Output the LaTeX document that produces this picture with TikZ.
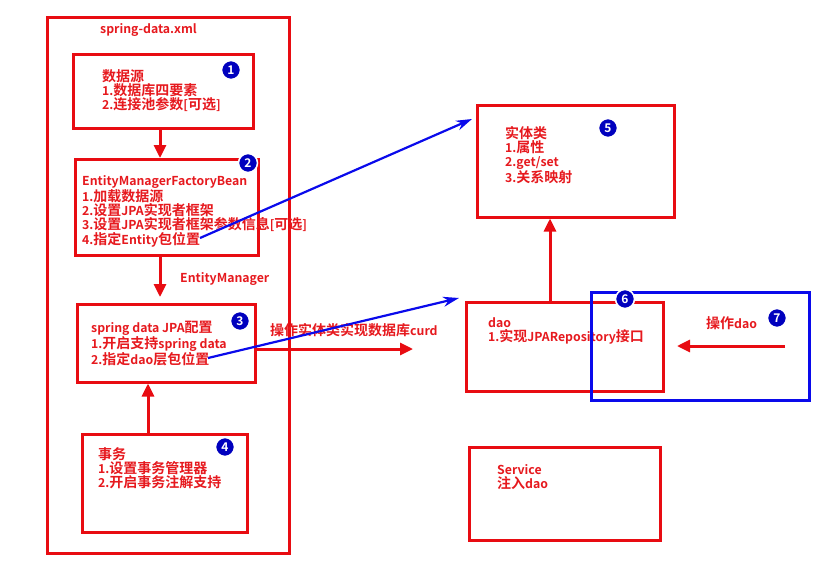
\documentclass[tikz,border=0pt]{standalone}
\usepackage{fontspec}
\setmainfont{Noto Sans CJK SC}[BoldFont={Noto Sans CJK SC Bold}]
\usetikzlibrary{fit,arrows.meta}
\definecolor{bred}{RGB}{232,12,18}
\definecolor{tred}{RGB}{230,25,30}
\definecolor{bblue}{RGB}{10,10,235}
\definecolor{badge}{RGB}{0,0,190}
\newcommand\en[1]{{\fontsize{12.3}{14}\selectfont #1}}
\tikzset{
  box/.style={draw=bred,line width=3pt,inner sep=0pt},
  bluebox/.style={draw=bblue,line width=3pt,inner sep=0pt},
  txt/.style={text=tred,font=\bfseries\fontsize{14}{14}\selectfont,align=left,inner sep=0pt,anchor=north west},
  lbl/.style={text=tred,font=\bfseries\fontsize{14}{14}\selectfont,inner sep=0pt,anchor=west},
  badgenode/.style={circle,fill=badge,draw=white,line width=1.5pt,text=white,inner sep=0pt,minimum size=19pt,font=\bfseries\fontsize{12}{12}\selectfont},
  rarrow/.style={draw=bred,line width=3pt,-{Triangle[length=13pt,width=12pt]}},
  barrow/.style={draw=bblue,line width=2.2pt,-{Stealth[length=16pt,width=10pt]}},
}
\begin{document}
\begin{tikzpicture}[x=1pt,y=-1pt]
\useasboundingbox (0,0) rectangle (814,573);
% box corners
\coordinate (o1) at (47,17);  \coordinate (o2) at (289,553);
\coordinate (a1) at (73,54);  \coordinate (a2) at (253,128);
\coordinate (c1) at (75,159); \coordinate (c2) at (258,255);
\coordinate (d1) at (77,304); \coordinate (d2) at (255,382);
\coordinate (e1) at (82,434); \coordinate (e2) at (247,532);
\coordinate (f1) at (477,105);\coordinate (f2) at (674,217);
\coordinate (g1) at (466,302);\coordinate (g2) at (663,391);
\coordinate (h1) at (591,292);\coordinate (h2) at (809,400);
\coordinate (s1) at (469,447);\coordinate (s2) at (660,540);
\node[box,fit=(o1)(o2)] (outer) {};
\node[box,fit=(a1)(a2)] (b1) {};
\node[box,fit=(c1)(c2)] (b2) {};
\node[box,fit=(d1)(d2)] (b3) {};
\node[box,fit=(e1)(e2)] (b4) {};
\node[box,fit=(f1)(f2)] (b5) {};
\node[box,fit=(g1)(g2)] (b6) {};
\node[box,fit=(s1)(s2)] (bs) {};
% texts
\node[lbl] (title) at (100,30) {\en{spring-data.xml}};
\node[txt] (t1) at (102,69) {数据源\\\en{1.}数据库四要素\\\en{2.}连接池参数\en{[}可选\en{]}};
\node[txt] (t2) at (82,175) {\en{EntityManagerFactoryBean}\\\en{1.}加载数据源\\\en{2.}设置\en{JPA}实现者框架\\\en{3.}设置\en{JPA}实现者框架参数信息\en{[}可选\en{]}\\\en{4.}指定\en{Entity}包位置};
\node[lbl] (em) at (180,279) {\en{EntityManager}};
\node[txt] (t3) at (91,321) {\en{spring data JPA}配置\\\en{1.}开启支持\en{spring data}\\\en{2.}指定\en{dao}层包位置};
\node[lbl] (crud) at (270,330) {操作实体类实现数据库\en{curd}};
\node[txt] (t4) at (98,447) {事务\\\en{1.}设置事务管理器\\\en{2.}开启事务注解支持};
\node[txt] (t5) at (505,126) {实体类\\\en{1.}属性\\\en{2.get/set}\\\en{3.}关系映射};
\node[txt] (t6) at (488,317) {\en{dao}\\\en{1.}实现\en{JPARepository}接口};
\node[lbl] (op) at (706,323) {操作\en{dao}};
\node[txt] (ts) at (497,464) {\en{Service}\\注入\en{dao}};
% arrows
\coordinate (crudtip) at (413,349);
\coordinate (opstart) at (785,346);
\coordinate (optip) at (677,346);
\coordinate (ent) at (200,238);
\coordinate (entend) at (472,119);
\coordinate (daop) at (208,358);
\coordinate (daoend) at (459,298);
\draw[rarrow] (160,0 |- b1.south) -- (160,158);
\draw[rarrow] (160,0 |- b2.south) -- (160,297);
\draw[rarrow] (148,0 |- b4.north) -- (148,0 |- b3.south);
\draw[rarrow] (b3.east |- crudtip) -- (crudtip);
\draw[rarrow] (550,0 |- b6.north) -- (550,0 |- b5.south);
\draw[rarrow] (opstart) -- (optip);
\draw[barrow] (ent) -- (entend);
\draw[barrow] (daop) -- (daoend);
\node[bluebox,fit=(h1)(h2)] (b7) {};
% badges
\node[badgenode] (n1) at (231,70) {1};
\node[badgenode] (n2) at (248,163) {2};
\node[badgenode] (n3) at (240,321) {3};
\node[badgenode] (n4) at (225,447) {4};
\node[badgenode] (n5) at (608,128) {5};
\node[badgenode] (n6) at (625,299) {6};
\node[badgenode] (n7) at (777,318) {7};
\end{tikzpicture}
\end{document}
